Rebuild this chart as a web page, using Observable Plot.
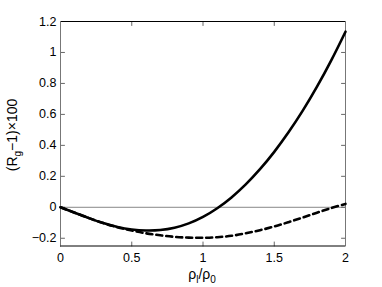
<!DOCTYPE html>
<html>
<head>
<meta charset="utf-8">
<script src="https://cdn.jsdelivr.net/npm/d3@7"></script>
<script src="https://cdn.jsdelivr.net/npm/@observablehq/plot@0.6"></script>
<style>
  html, body { margin: 0; padding: 0; background: #fff; }
  svg { display: block; }
</style>
</head>
<body>
<div id="chart"></div>
<script>
const xs = [0, 0.1, 0.2, 0.3, 0.4, 0.5, 0.6, 0.7, 0.8, 0.9, 1.0, 1.1, 1.2, 1.3, 1.4, 1.5, 1.6, 1.7, 1.8, 1.9, 2.0];
const solid = [0, -0.035, -0.070, -0.102, -0.127, -0.143, -0.150, -0.147, -0.132, -0.104, -0.062, -0.006, 0.064, 0.148, 0.246, 0.358, 0.484, 0.624, 0.779, 0.949, 1.134];
const dashed = [0, -0.035, -0.070, -0.102, -0.129, -0.150, -0.168, -0.181, -0.191, -0.196, -0.197, -0.193, -0.184, -0.168, -0.148, -0.124, -0.096, -0.066, -0.035, -0.005, 0.022];
const xTicks = [0, 0.5, 1, 1.5, 2];
const yTicks = [-0.2, 0, 0.2, 0.4, 0.6, 0.8, 1, 1.2];
const xDomain = [0, 2];
const yDomain = [-0.25, 1.2];

const solidData = xs.map((x, i) => ({x, y: solid[i]}));
const dashedData = xs.map((x, i) => ({x, y: dashed[i]}));
const fmt = d => (d < 0 ? "\u2212" : "") + String(+Math.abs(d).toFixed(2));

const font = "'Liberation Sans', Arial, Helvetica, sans-serif";
const tickShape = {draw(c, l) { c.moveTo(0, 0); c.lineTo(0, -l); }};
const tickStyle = {length: 4, shape: tickShape, anchor: "start", stroke: "#666", strokeWidth: 1};

const chart = Plot.plot({
  width: 382,
  height: 287,
  marginLeft: 60,
  marginRight: 37,
  marginTop: 21,
  marginBottom: 41.5,
  style: {fontFamily: font, fontSize: "12.5px", color: "#000", background: "#fff"},
  x: {domain: xDomain},
  y: {domain: yDomain},
  marks: [
    Plot.ruleY([0], {stroke: "#888", strokeWidth: 1}),
    Plot.axisX(xTicks, {anchor: "bottom", tickSize: 0, tickPadding: 7, tickFormat: fmt, label: null, fill: "#000"}),
    Plot.axisY(yTicks, {anchor: "left", tickSize: 0, tickPadding: 4, tickFormat: fmt, label: null, fill: "#000"}),
    // inward ticks on all four sides
    Plot.vector(yTicks, {x: xDomain[0], y: d => d, rotate: 90, ...tickStyle}),
    Plot.vector(yTicks, {x: xDomain[1], y: d => d, rotate: -90, ...tickStyle}),
    Plot.vector(xTicks, {x: d => d, y: yDomain[0], rotate: 0, ...tickStyle}),
    Plot.vector(xTicks, {x: d => d, y: yDomain[1], rotate: 180, ...tickStyle}),
    Plot.ruleY([yDomain[1], yDomain[0]], {stroke: "#000", strokeWidth: 1}),
    Plot.ruleX(xDomain, {stroke: "#777", strokeWidth: 1}),
    Plot.line(dashedData, {x: "x", y: "y", curve: "catmull-rom", stroke: "#000", strokeWidth: 2.6, strokeDasharray: "6,4"}),
    Plot.line(solidData, {x: "x", y: "y", curve: "catmull-rom", stroke: "#000", strokeWidth: 2.6})
  ]
});

const svg = d3.select(chart);
// y axis label with subscript
const yl = svg.append("text")
  .attr("transform", "translate(17,135) rotate(-90)")
  .attr("text-anchor", "middle")
  .attr("font-family", font)
  .attr("font-size", 14)
  .attr("fill", "#000");
yl.append("tspan").text("(R");
yl.append("tspan").attr("dy", 4).attr("font-size", 10).text("g");
yl.append("tspan").attr("dy", -4).text("\u22121)\u00d7100");

// x axis label with subscripts
const xl = svg.append("text")
  .attr("x", 202)
  .attr("y", 279)
  .attr("text-anchor", "middle")
  .attr("font-family", font)
  .attr("font-size", 14)
  .attr("fill", "#000");
xl.append("tspan").text("\u03c1");
xl.append("tspan").attr("dy", 4).attr("font-size", 10).text("l");
xl.append("tspan").attr("dy", -4).text("/\u03c1");
xl.append("tspan").attr("dy", 4).attr("font-size", 10).text("0");

document.getElementById("chart").appendChild(chart);
</script>
</body>
</html>
